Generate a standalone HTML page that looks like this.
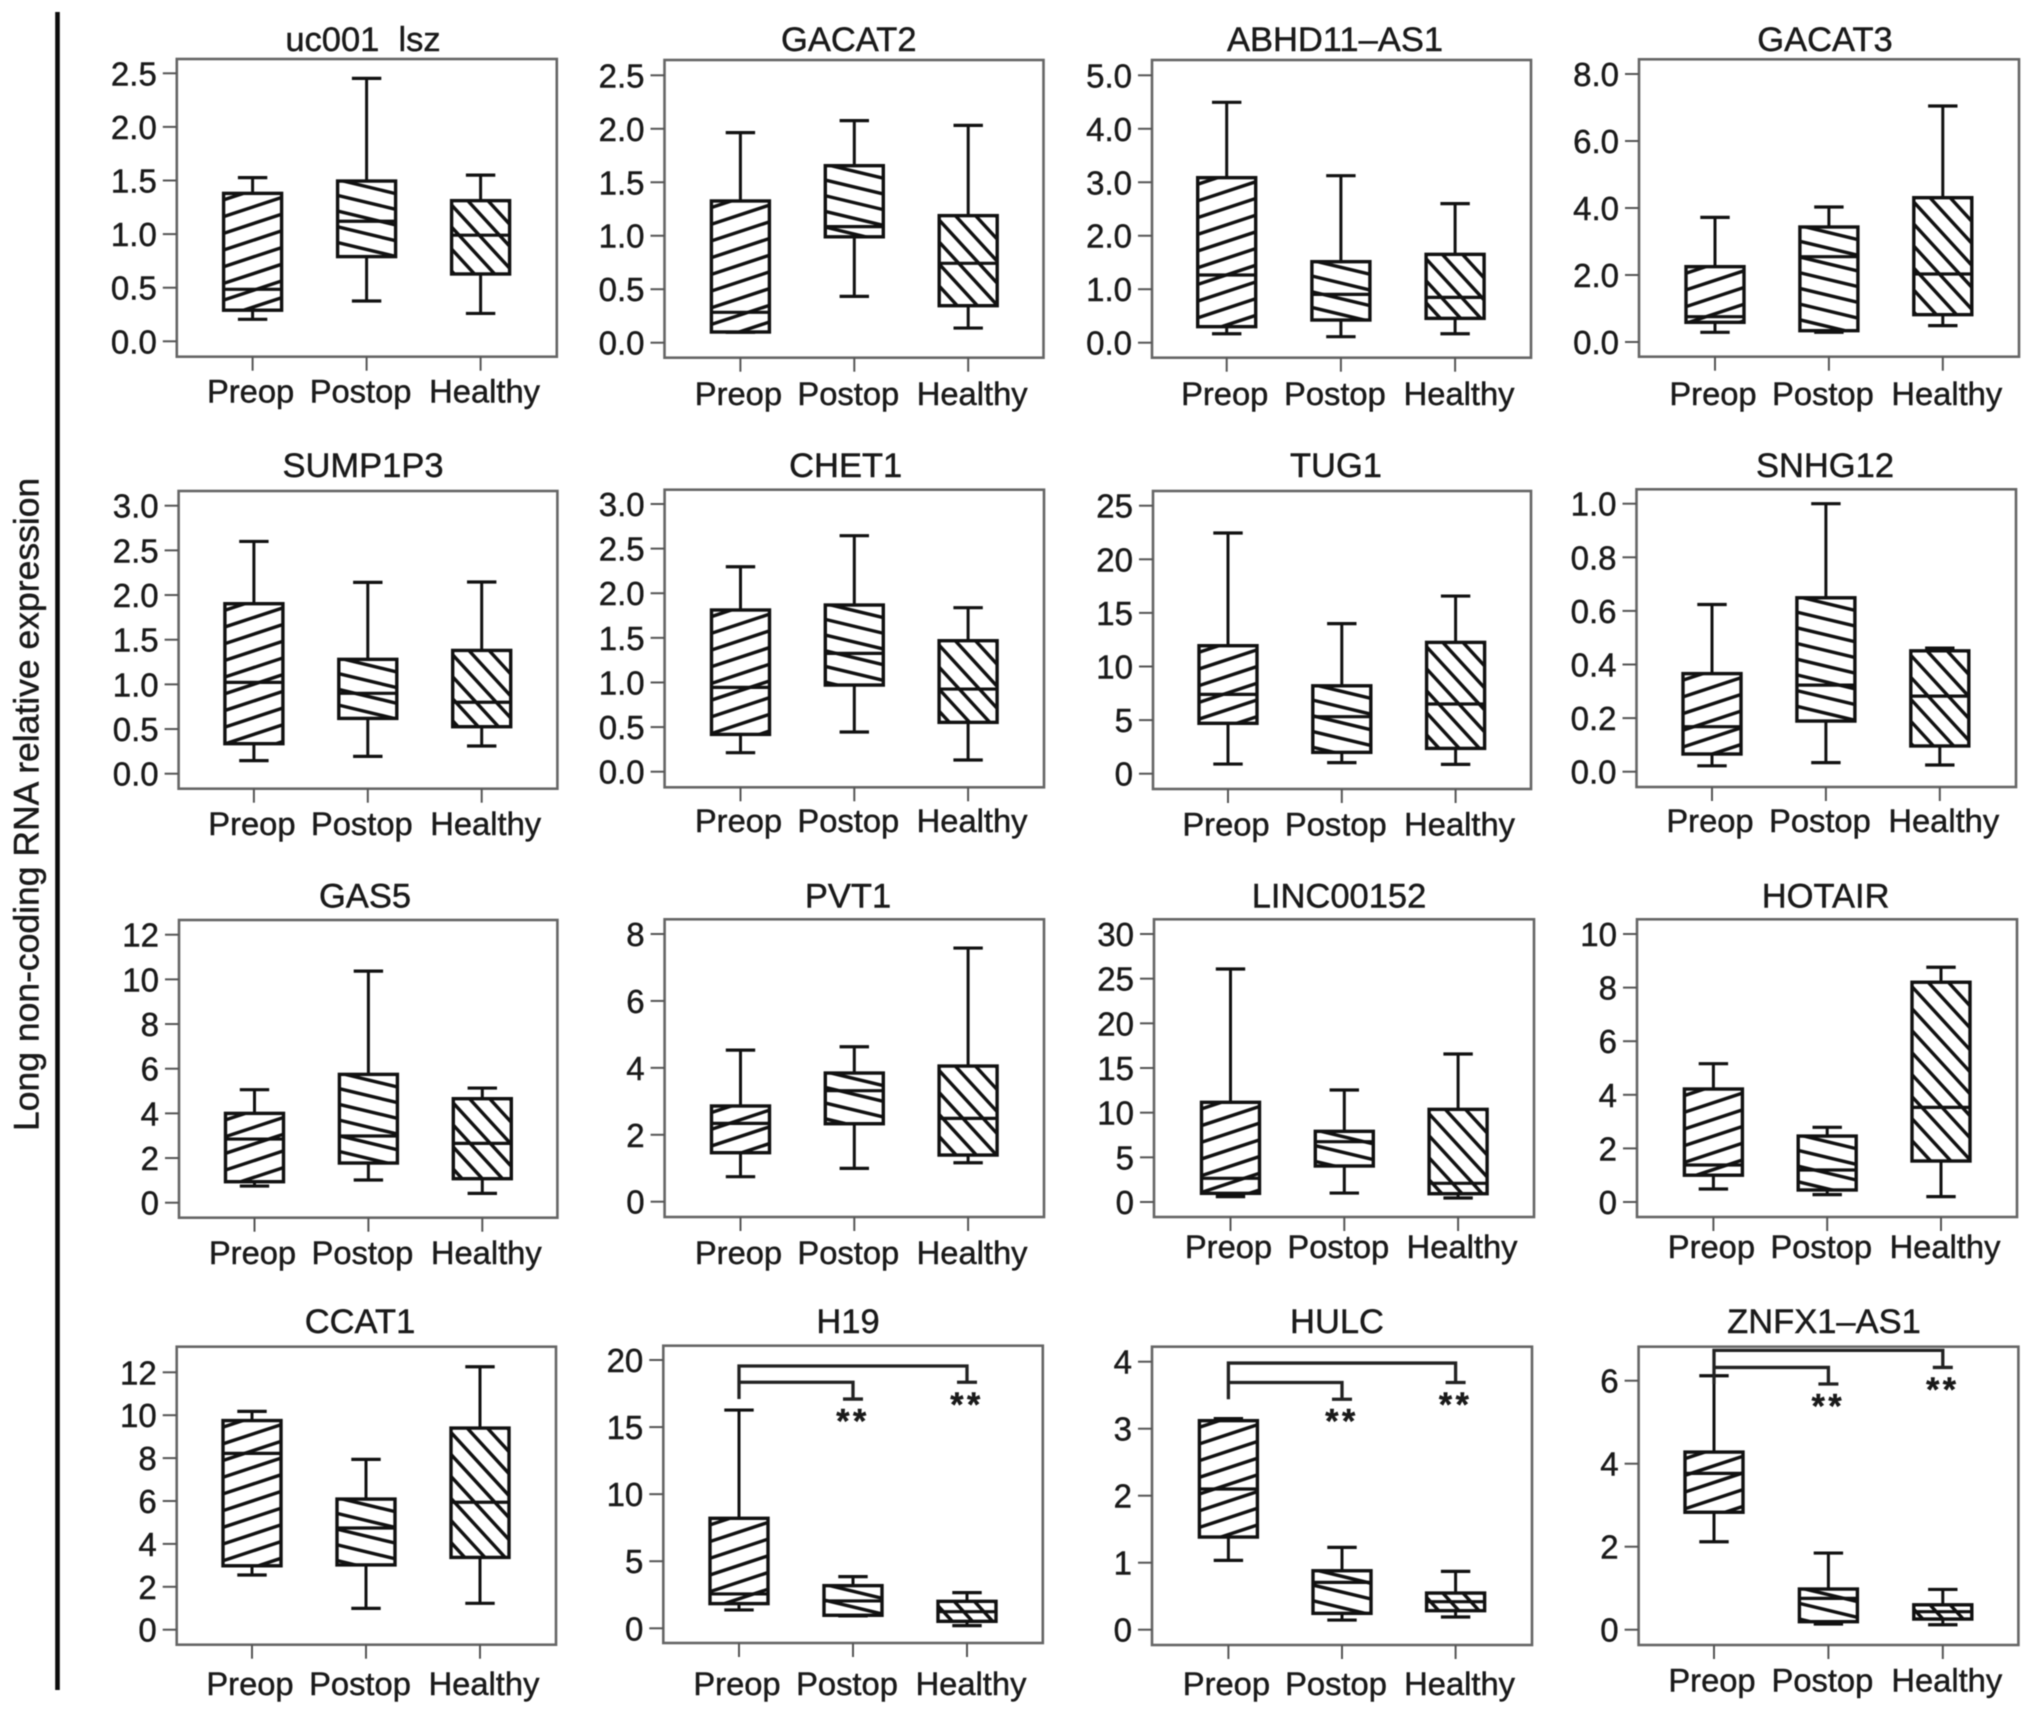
<!DOCTYPE html>
<html lang="en">
<head>
<meta charset="utf-8">
<title>Long non-coding RNA relative expression box plots</title>
<style>
html,body{margin:0;padding:0;background:#fff;width:2032px;height:1715px;overflow:hidden}
svg{display:block;filter:blur(0.6px)}
text{font-family:"Liberation Sans",sans-serif;fill:#1a1a1a;stroke:#1a1a1a;stroke-width:0.45px}
</style>
</head>
<body>
<svg id="chart" xmlns="http://www.w3.org/2000/svg" width="2032" height="1715" viewBox="0 0 2032 1715">
  <rect x="0" y="0" width="2032" height="1715" fill="#ffffff"></rect>
  <line x1="57.5" y1="12" x2="57.5" y2="1690" stroke="#0c0c0c" stroke-width="4.6"></line>
  <text transform="translate(38.5,1131) rotate(-90)" font-size="35.5">Long non-coding RNA relative expression</text>
</svg>
<script>
const categories = ['Preop', 'Postop', 'Healthy'];
const genes = ['uc001  lsz', 'GACAT2', 'ABHD11–AS1', 'GACAT3', 'SUMP1P3', 'CHET1', 'TUG1', 'SNHG12', 'GAS5', 'PVT1', 'LINC00152', 'HOTAIR', 'CCAT1', 'H19', 'HULC', 'ZNFX1–AS1'];
const tickLabels = [
  ['0.0', '0.5', '1.0', '1.5', '2.0', '2.5'],
  ['0.0', '0.5', '1.0', '1.5', '2.0', '2.5'],
  ['0.0', '1.0', '2.0', '3.0', '4.0', '5.0'],
  ['0.0', '2.0', '4.0', '6.0', '8.0'],
  ['0.0', '0.5', '1.0', '1.5', '2.0', '2.5', '3.0'],
  ['0.0', '0.5', '1.0', '1.5', '2.0', '2.5', '3.0'],
  ['0', '5', '10', '15', '20', '25'],
  ['0.0', '0.2', '0.4', '0.6', '0.8', '1.0'],
  ['0', '2', '4', '6', '8', '10', '12'],
  ['0', '2', '4', '6', '8'],
  ['0', '5', '10', '15', '20', '25', '30'],
  ['0', '2', '4', '6', '8', '10'],
  ['0', '2', '4', '6', '8', '10', '12'],
  ['0', '5', '10', '15', '20'],
  ['0', '1', '2', '3', '4'],
  ['0', '2', '4', '6']
];
const whiskerLow = [
  [0.205, 0.376, 0.26], [0.097, 0.433, 0.137], [0.168, 0.112, 0.168], [0.289, 0.29, 0.488],
  [0.146, 0.194, 0.31], [0.213, 0.445, 0.131], [0.9, 1.03, 0.87], [0.022, 0.034, 0.025],
  [0.746, 1.015, 0.418], [0.747, 0.996, 1.165], [0.6, 1.0, 0.45], [0.485, 0.274, 0.2],
  [2.55, 0.995, 1.23], [1.37, 0.92, 0.2], [1.035, 0.144, 0.189], [2.12, 0.137, 0.12]
];
const quartile1 = [
  [0.29, 0.79, 0.628], [0.10, 0.99, 0.346], [0.30, 0.424, 0.455], [0.587, 0.338, 0.816],
  [0.336, 0.619, 0.526], [0.418, 0.971, 0.553], [4.7, 1.99, 2.36], [0.066, 0.189, 0.096],
  [0.94, 1.776, 1.075], [1.464, 2.33, 1.394], [0.97, 4.03, 0.93], [1.0, 0.448, 1.53],
  [2.98, 3.02, 3.37], [1.84, 0.97, 0.52], [1.383, 0.244, 0.284], [2.83, 0.193, 0.257]
];
const medians = [
  [0.485, 1.12, 0.99], [0.284, 1.085, 0.742], [1.266, 0.904, 0.848], [0.756, 2.547, 2.03],
  [1.022, 0.90, 0.80], [0.945, 1.326, 0.926], [7.4, 5.32, 6.5], [0.168, 0.323, 0.282],
  [2.85, 2.985, 2.657], [2.34, 3.317, 2.49], [2.65, 6.75, 2.09], [1.38, 1.194, 3.53],
  [8.22, 4.74, 5.94], [2.56, 2.04, 1.24], [2.1, 0.706, 0.418], [3.767, 0.755, 0.434]
];
const quartile3 = [
  [1.38, 1.495, 1.312], [1.325, 1.655, 1.188], [3.086, 1.515, 1.652], [2.249, 3.433, 4.308],
  [1.903, 1.28, 1.38], [1.812, 1.868, 1.468], [11.94, 8.2, 12.25], [0.366, 0.649, 0.451],
  [4.0, 5.746, 4.657], [2.86, 3.845, 4.054], [11.16, 7.91, 10.37], [4.216, 2.46, 8.2],
  [9.75, 6.09, 9.4], [8.2, 3.18, 2.01], [3.12, 0.88, 0.547], [4.28, 0.98, 0.6]
];
const whiskerHigh = [
  [1.527, 2.453, 1.55], [1.964, 2.076, 2.032], [4.495, 3.123, 2.6], [3.72, 4.03, 7.045],
  [2.6, 2.142, 2.146], [2.297, 2.645, 1.838], [22.45, 14.0, 16.57], [0.624, 1.0, 0.461],
  [5.06, 10.37, 5.134], [4.53, 4.63, 7.58], [26.08, 12.54, 16.57], [5.16, 2.786, 8.76],
  [10.18, 7.94, 12.26], [16.27, 3.85, 2.66], [3.15, 1.229, 0.87], [6.12, 1.847, 0.97]
];
/* significance brackets: panel index, outer bar level, inner bar level, lower cap level (axis units) */
const significancePanels = [13, 14, 15];
const bracketOuter = [19.55, 3.98, 6.73];
const bracketInner = [18.34, 3.69, 6.32];
const bracketCap = [17.09, 3.44, 5.92];

/* page layout only (not data): frame box, y pixel of the top and bottom tick, category centres, title and label placement */
const frameLeft = [176.8, 664.5, 1152, 1639, 178.6, 664.6, 1153, 1636.5, 179, 664.6, 1154, 1637, 176.7, 663.3, 1152, 1638.6];
const frameRight = [556.8, 1043.5, 1531, 2019, 557.4, 1044, 1531, 2016, 557.4, 1044, 1534, 2017, 556, 1042.8, 1532, 2018.4];
const frameTop = [59, 60, 60, 59.3, 491, 489.7, 491, 489.3, 920, 919.3, 919.3, 919.3, 1346.7, 1345.7, 1346.7, 1346.7];
const frameBottom = [356.7, 357.7, 357.7, 356.7, 788.7, 787.3, 789, 787, 1217.7, 1217, 1217, 1217, 1644.7, 1643, 1645, 1645];
const topTickY = [73.3, 75.3, 75.3, 74, 505.7, 504, 505.7, 503.7, 934.7, 934, 934, 934, 1372.3, 1360, 1361.7, 1380.7];
const zeroTickY = [341.3, 342.7, 342.7, 342, 773.7, 771.7, 773.7, 771.7, 1202.7, 1201.7, 1202, 1202, 1629.7, 1628.3, 1629.7, 1629.7];
const firstCentre = [252.6, 740.4, 1226.7, 1715, 253.9, 740.5, 1228, 1712, 254.5, 740.5, 1230.5, 1713.4, 252, 739, 1228.4, 1714];
const centreStep = [114, 113.9, 114.2, 113.9, 113.9, 113.8, 113.8, 113.9, 113.9, 113.8, 113.8, 113.8, 114, 114, 113.6, 114.4];
const titleX = [363, 848.8, 1335, 1825, 363, 845.7, 1336, 1825, 365, 848, 1339, 1825.6, 360, 848, 1337, 1824];
const titleBaseline = [51, 51, 51, 51, 477, 477, 477, 477, 907.5, 907.5, 907.5, 907.5, 1333, 1333, 1333, 1333];
const labelBaseline = [402.7, 405, 405, 405, 835, 832, 835.7, 832, 1264, 1264, 1258, 1258, 1695, 1695, 1695, 1691.7];

const SVG_NS = 'http://www.w3.org/2000/svg';
const svg = document.getElementById('chart');
const defs = document.createElementNS(SVG_NS, 'defs');
svg.appendChild(defs);

function make(tag, attrs, parent) {
  const el = document.createElementNS(SVG_NS, tag);
  for (const key in attrs) el.setAttribute(key, attrs[key]);
  parent.appendChild(el);
  return el;
}
function yAxis(p) {
  const values = tickLabels[p].map(Number);
  const lo = values[0];
  const hi = values[values.length - 1];
  return function (v) {
    return zeroTickY[p] + (topTickY[p] - zeroTickY[p]) * (v - lo) / (hi - lo);
  };
}
function xAxis(p) {
  return function (c) {
    return firstCentre[p] + centreStep[p] * c;
  };
}
const slugOf = function (s) {
  return s.toLowerCase().replace(/[\s–]+/g, '-');
};
const boxHalf = 29;
const capHalf = 14.7;
const hatchSlope = [-0.33, 0.24, 1.09];
const hatchGap = [16.7, 15.7, 22];
const hatchPhase = [13.7, 5.6, 14];
const labelShift = [-2, -6, 4];

genes.forEach(function (gene, p) {
  const y = yAxis(p);
  const x = xAxis(p);
  const slug = slugOf(gene);

  const panel = make('g', {}, svg);
  
  

  const title = make('text', { x: titleX[p], y: titleBaseline[p], 'text-anchor': 'middle', 'font-size': 34.5, style: 'white-space:pre' }, panel);
  title.textContent = gene;
  
  

  const frame = make('rect', { x: frameLeft[p], y: frameTop[p], width: frameRight[p] - frameLeft[p], height: frameBottom[p] - frameTop[p], fill: '#fff', stroke: '#666', 'stroke-width': 2.6 }, panel);
  
  

  tickLabels[p].forEach(function (label) {
    const ty = y(Number(label));
    const tick = make('line', { x1: frameLeft[p] - 14, x2: frameLeft[p], y1: ty, y2: ty, stroke: '#555', 'stroke-width': 2 }, panel);
    
    
    const tickText = make('text', { x: frameLeft[p] - 20, y: ty + 12, 'text-anchor': 'end', 'font-size': 33 }, panel);
    tickText.textContent = label;
    
    
  });

  categories.forEach(function (cat, c) {
    const cx = x(c);
    const catSlug = cat.toLowerCase();

    const xTick = make('line', { x1: cx, x2: cx, y1: frameBottom[p], y2: frameBottom[p] + 14, stroke: '#555', 'stroke-width': 2 }, panel);
    
    

    const xText = make('text', { x: cx + labelShift[c], y: labelBaseline[p], 'text-anchor': 'middle', 'font-size': 32.7 }, panel);
    xText.textContent = cat;
    
    

    const group = make('g', {}, panel);
    
    

    const low = y(whiskerLow[p][c]);
    const high = y(whiskerHigh[p][c]);
    const q1 = y(quartile1[p][c]);
    const q3 = y(quartile3[p][c]);
    const med = y(medians[p][c]);

    const stem = make('line', { x1: cx, x2: cx, y1: high, y2: low, stroke: '#111', 'stroke-width': 3 }, group);
    
    

    const capTop = make('line', { x1: cx - capHalf, x2: cx + capHalf, y1: high, y2: high, stroke: '#111', 'stroke-width': 3.2 }, group);
    
    

    const capLow = make('line', { x1: cx - capHalf, x2: cx + capHalf, y1: low, y2: low, stroke: '#111', 'stroke-width': 3.2 }, group);
    
    

    const body = make('rect', { x: cx - boxHalf, y: q3, width: boxHalf * 2, height: q1 - q3, fill: '#fff' }, group);
    
    

    const clipId = 'clip-' + p + '-' + c;
    const clip = make('clipPath', { id: clipId }, defs);
    make('rect', { x: cx - boxHalf, y: q3, width: boxHalf * 2, height: q1 - q3 }, clip);

    const hatch = make('g', { 'clip-path': 'url(#' + clipId + ')', stroke: '#111', 'stroke-width': 3.4, fill: 'none' }, group);
    
    
    const slope = hatchSlope[c];
    const gap = hatchGap[c];
    const rise = Math.abs(slope) * boxHalf;
    let offset = q3 + hatchPhase[c] - gap * Math.ceil((rise + hatchPhase[c]) / gap);
    while (offset < q1 + rise + gap) {
      make('line', { x1: cx - boxHalf, y1: offset - slope * boxHalf, x2: cx + boxHalf, y2: offset + slope * boxHalf }, hatch);
      offset += gap;
    }

    const outline = make('rect', { x: cx - boxHalf, y: q3, width: boxHalf * 2, height: q1 - q3, fill: 'none', stroke: '#111', 'stroke-width': 3.4 }, group);
    
    

    const medLine = make('line', { x1: cx - boxHalf, x2: cx + boxHalf, y1: med, y2: med, stroke: '#111', 'stroke-width': 3.2 }, group);
    
    
  });

  const sig = significancePanels.indexOf(p);
  if (sig >= 0) {
    const outerY = y(bracketOuter[sig]);
    const innerY = y(bracketInner[sig]);
    const capY = y(bracketCap[sig]);
    const x0 = x(0);
    const x1 = x(1);
    const x2 = x(2);

    const outer = make('path', { d: 'M' + x0 + ' ' + capY + 'V' + outerY + 'H' + x2 + 'V' + innerY + 'M' + (x2 - 10) + ' ' + innerY + 'H' + (x2 + 10), fill: 'none', stroke: '#222', 'stroke-width': 3.3 }, panel);
    
    

    const inner = make('path', { d: 'M' + x0 + ' ' + innerY + 'H' + x1 + 'V' + capY + 'M' + (x1 - 10) + ' ' + capY + 'H' + (x1 + 10), fill: 'none', stroke: '#222', 'stroke-width': 3.3 }, panel);
    
    

    const starsPostop = make('text', { x: x1, y: capY + 33.5, 'text-anchor': 'middle', 'font-size': 34, 'font-weight': 'bold', 'letter-spacing': 3.5 }, panel);
    starsPostop.textContent = '**';
    
    

    const starsHealthy = make('text', { x: x2, y: innerY + 33.5, 'text-anchor': 'middle', 'font-size': 34, 'font-weight': 'bold', 'letter-spacing': 3.5 }, panel);
    starsHealthy.textContent = '**';
    
    
  }
});
</script>
</body>
</html>
